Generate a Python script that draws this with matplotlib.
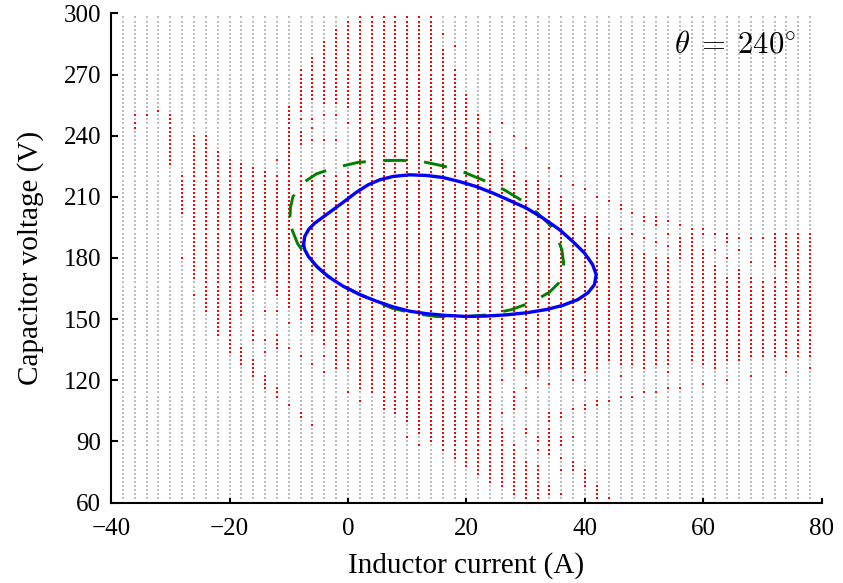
import numpy as np
import matplotlib
matplotlib.use('Agg')
import matplotlib.pyplot as plt

# initial-condition grid (A, V)
grid_x = np.arange(-38, 79, 2)
grid_y = np.arange(62, 299, 2)

# red (converging) points per column: (current, v_low, v_high)
red_spans = [
    (-36, 250, 250), (-36, 244, 246),
    (-34, 250, 250),
    (-32, 252, 252),
    (-30, 226, 250),
    (-28, 202, 220), (-28, 180, 180),
    (-26, 170, 240), (-26, 162, 162),
    (-24, 154, 240),
    (-22, 142, 232),
    (-20, 134, 228),
    (-18, 152, 226), (-18, 128, 136),
    (-16, 164, 224), (-16, 140, 144), (-16, 122, 130),
    (-14, 170, 222), (-14, 154, 154), (-14, 140, 140), (-14, 134, 134), (-14, 116, 122),
    (-12, 228, 228), (-12, 162, 220), (-12, 154, 154), (-12, 136, 142), (-12, 112, 116),
    (-10, 156, 254), (-10, 148, 148), (-10, 136, 136), (-10, 108, 108),
    (-8, 252, 272), (-8, 248, 248), (-8, 236, 242), (-8, 150, 220), (-8, 132, 132), (-8, 102, 104),
    (-6, 258, 278), (-6, 248, 248), (-6, 244, 244), (-6, 238, 238), (-6, 144, 220), (-6, 128, 128), (-6, 98, 98),
    (-4, 256, 286), (-4, 250, 250), (-4, 238, 238), (-4, 138, 220), (-4, 132, 132), (-4, 124, 124),
    (-2, 256, 292), (-2, 250, 250), (-2, 238, 238), (-2, 126, 220),
    (0, 254, 296), (0, 246, 246), (0, 126, 222), (0, 114, 114),
    (2, 116, 298), (2, 110, 110),
    (4, 114, 298),
    (6, 106, 298),
    (8, 104, 298),
    (10, 100, 298), (10, 92, 92),
    (12, 94, 298), (12, 88, 88),
    (14, 90, 298),
    (16, 86, 282), (16, 290, 290),
    (18, 82, 272), (18, 284, 284),
    (20, 78, 260),
    (22, 74, 250),
    (24, 70, 236), (24, 242, 242),
    (26, 126, 228), (26, 246, 246), (26, 120, 120), (26, 104, 104), (26, 68, 96),
    (28, 126, 222), (28, 240, 240), (28, 106, 114), (28, 64, 88),
    (30, 124, 218), (30, 234, 234), (30, 116, 116), (30, 94, 96), (30, 62, 80),
    (32, 122, 218), (32, 90, 92), (32, 86, 86), (32, 62, 78),
    (34, 126, 214), (34, 224, 224), (34, 118, 118), (34, 100, 104), (34, 84, 96), (34, 64, 68),
    (36, 126, 210), (36, 220, 220), (36, 102, 104), (36, 88, 92), (36, 82, 82), (36, 76, 76), (36, 64, 64),
    (38, 126, 206), (38, 216, 216), (38, 120, 120), (38, 106, 106), (38, 92, 92), (38, 76, 80),
    (40, 124, 200), (40, 214, 214), (40, 120, 120), (40, 106, 108), (40, 68, 76),
    (42, 126, 200), (42, 210, 210), (42, 108, 110), (42, 62, 68),
    (44, 130, 190), (44, 208, 208), (44, 110, 110), (44, 62, 62),
    (46, 128, 190), (46, 194, 194), (46, 204, 206), (46, 122, 122), (46, 112, 112),
    (48, 128, 184), (48, 192, 192), (48, 202, 202), (48, 112, 112),
    (50, 126, 182), (50, 190, 190), (50, 198, 200), (50, 114, 114),
    (52, 128, 180), (52, 188, 188), (52, 196, 200), (52, 114, 114),
    (54, 128, 180), (54, 186, 186), (54, 192, 192), (54, 198, 198), (54, 124, 124), (54, 116, 116),
    (56, 180, 190), (56, 196, 196), (56, 116, 116),
    (58, 130, 194),
    (60, 128, 184), (60, 192, 194), (60, 118, 118),
    (62, 126, 176), (62, 184, 184), (62, 192, 192),
    (64, 130, 170), (64, 180, 180), (64, 188, 192), (64, 120, 120),
    (66, 130, 174), (66, 184, 184), (66, 190, 190),
    (68, 132, 170), (68, 178, 178), (68, 190, 190), (68, 122, 122),
    (70, 132, 168), (70, 190, 190),
    (72, 132, 170), (72, 176, 192),
    (74, 132, 192), (74, 124, 124),
    (76, 132, 192),
    (78, 132, 192), (78, 126, 126),
]

# simulated trajectory (blue)
blue_x = [-7.5, -7.3, -6.6, -5.6, -4.2, -2.5, -0.6, 1.4, 3.4, 5.4, 7.6, 10.4, 13.2, 16.0, 18.8,
          21.6, 24.5, 27.3, 30.1, 32.9, 35.7, 37.9, 39.9, 41.3, 41.9, 41.6, 40.5, 38.8, 36.3,
          33.5, 30.1, 26.7, 23.3, 20.0, 16.6, 13.2, 10.4, 7.6, 4.8, 2.0, -0.8, -3.4, -5.3,
          -6.7, -7.3, -7.5]
blue_y = [186.5, 190.6, 194.2, 197.1, 200.1, 203.7, 207.8, 212.2, 215.9, 218.4, 220.0, 220.8,
          220.5, 219.5, 217.5, 215.1, 211.8, 208.2, 204.5, 199.6, 193.9, 188.2, 182.5, 176.7,
          171.8, 166.9, 162.9, 159.6, 156.8, 154.7, 153.1, 152.1, 151.5, 151.3, 151.8, 152.7,
          153.9, 156.0, 158.8, 162.0, 166.1, 171.0, 176.0, 180.8, 184.1, 186.5]

# estimated boundary (green dashed)
green_x = [-9.8, -9.7, -9.3, -8.4, -7.0, -5.3, -2.2, 1.7, 5.4, 9.0, 12.7, 16.0, 19.7, 23.3,
           26.4, 29.8, 32.0, 34.0, 35.3, 36.1, 36.4, 36.2, 35.5, 34.0, 31.0, 27.5, 23.3, 18.3,
           14.9, 11.5, 7.6, 4.5, 1.4, -2.2, -4.8, -7.0, -8.5, -9.4, -9.8]
green_y = [200.0, 205.0, 210.0, 213.8, 218.0, 221.3, 224.3, 226.9, 227.8, 227.9, 227.2, 225.2,
           221.9, 217.6, 213.4, 207.4, 202.0, 196.5, 190.5, 184.0, 177.5, 172.0, 167.5, 163.2,
           158.2, 154.6, 152.0, 151.0, 151.3, 152.6, 155.2, 158.8, 163.0, 168.6, 174.4, 180.8,
           187.0, 193.5, 200.0]


def is_red(x, y):
    for cx, lo, hi in red_spans:
        if cx == x and lo <= y <= hi:
            return True
    return False


def draw():
    plt.rcParams['font.family'] = ['Liberation Serif', 'DejaVu Serif']
    plt.rcParams['mathtext.fontset'] = 'cm'

    fig = plt.figure(figsize=(8.43, 5.83), dpi=100)
    ax = fig.add_axes([0.1317, 0.138, 0.8433, 0.839])

    gx, gy, rx, ry = [], [], [], []
    for x in grid_x:
        for y in grid_y:
            if is_red(x, y):
                rx.append(x)
                ry.append(y)
            else:
                gx.append(x)
                gy.append(y)

    ax.scatter(gx, gy, s=1.0, marker='s', color='#bdbdbd', linewidths=0, zorder=1)
    ax.scatter(rx, ry, s=4.5, marker='+', color='#ff0000', linewidths=1.1, zorder=2)

    ax.plot(green_x, green_y, color='#008000', lw=2.1, dashes=(8, 6), zorder=3)
    ax.plot(blue_x, blue_y, color='#0000ff', lw=2.4, zorder=4)

    ax.text(0.878, 0.936, r'$\theta\;=\;240^{\circ}$', transform=ax.transAxes,
            ha='center', va='center', fontsize=22)

    ax.set_xlim(-40, 80)
    ax.set_ylim(60, 300)
    ax.set_xticks(range(-40, 81, 20))
    ax.set_yticks(range(60, 301, 30))
    ax.spines['top'].set_visible(False)
    ax.spines['right'].set_visible(False)
    ax.spines['left'].set_linewidth(1.5)
    ax.spines['bottom'].set_linewidth(1.5)
    ax.tick_params(direction='in', width=1.5, labelsize=18)
    ax.tick_params(axis='x', length=3.5, pad=11)
    ax.tick_params(axis='y', length=5, pad=7)
    ax.set_xlabel('Inductor current (A)', fontsize=21, labelpad=9)
    ax.set_ylabel('Capacitor voltage (V)', fontsize=21, labelpad=14)

    fig.savefig('out.png', dpi=100)


if __name__ == '__main__':
    draw()
